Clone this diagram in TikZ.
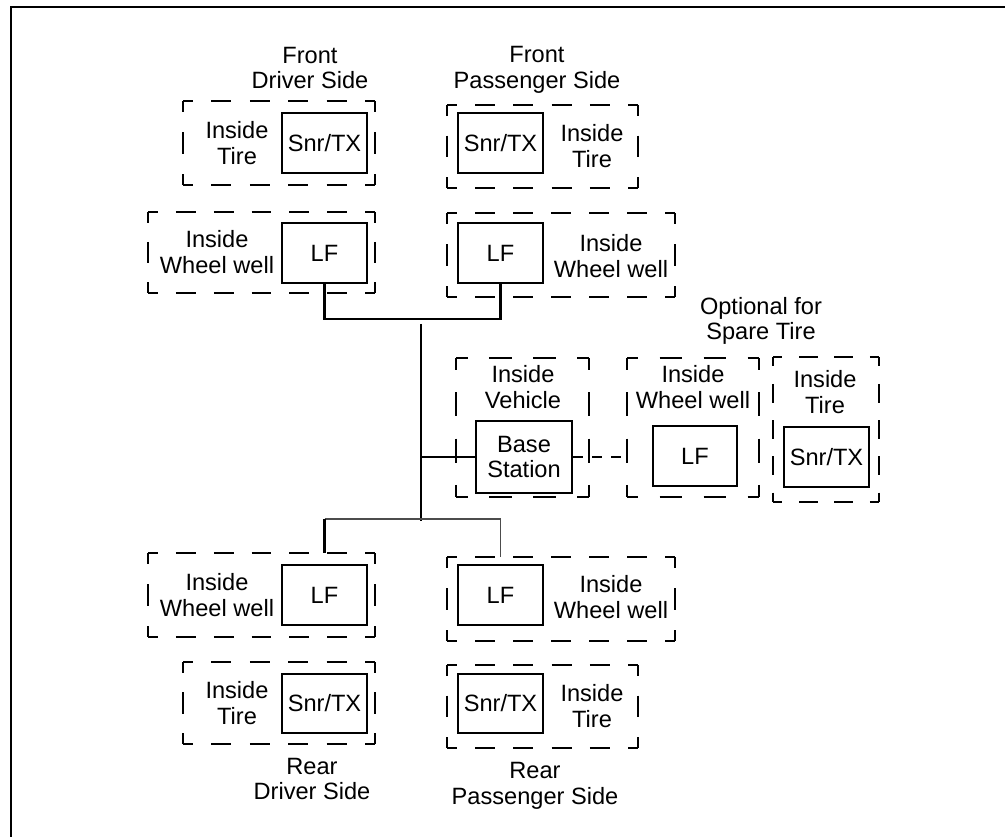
\documentclass[tikz,border=0pt]{standalone}
\usepackage{fontspec}
\setmainfont{Liberation Sans}
\newcommand\dbxframe[5]{%
  \node[dboxn, minimum width=#4pt, minimum height=#5pt] (#1) at (#2,#3) {};
  \pgfmathsetmacro\kw{max(1,round(#4/40))}%
  \pgfmathsetmacro\pw{#4/\kw}%
  \pgfmathsetmacro\dw{\pw*0.52}%
  \pgfmathsetmacro\gw{\pw-\dw}%
  \pgfmathsetmacro\hw{\dw/2}%
  \pgfmathsetmacro\kh{max(1,round(#5/40))}%
  \pgfmathsetmacro\ph{#5/\kh}%
  \pgfmathsetmacro\dh{\ph*0.52}%
  \pgfmathsetmacro\gh{\ph-\dh}%
  \pgfmathsetmacro\hh{\dh/2}%
  \draw[dline, dash pattern=on \dw pt off \gw pt, dash phase=\hw pt] (#1.north west) -- (#1.north east);
  \draw[dline, dash pattern=on \dw pt off \gw pt, dash phase=\hw pt] (#1.south west) -- (#1.south east);
  \draw[dline, dash pattern=on \dh pt off \gh pt, dash phase=\hh pt] (#1.north west) -- (#1.south west);
  \draw[dline, dash pattern=on \dh pt off \gh pt, dash phase=\hh pt] (#1.north east) -- (#1.south east);
}
\begin{document}
\begin{tikzpicture}[x=1pt,y=-1pt,
  sbox/.style={draw, line width=2.3pt, inner sep=0pt, minimum width=85pt, minimum height=60pt},
  dboxn/.style={inner sep=0pt, outer sep=0pt},
  dline/.style={line width=2.3pt, line cap=butt},
  lbl/.style={align=center, inner sep=0pt, font=\fontsize{23.6}{25.5}\selectfont},
  conn/.style={line width=2.3pt},
  thinconn/.style={line width=1.2pt, draw=black!70},
  dconn/.style={line width=2.3pt, dash pattern=on 10pt off 9pt}]
\useasboundingbox (0,0) rectangle (1005,837);
% frame
\coordinate (fa) at (11,837);
\coordinate (fb) at (11,7);
\coordinate (fc) at (1005,7);
\draw[line width=2.3pt] (fa) -- (fb) -- (fc);

% dashed enclosures
\dbxframe{fdTd}{279}{143}{192}{84}
\dbxframe{fdWd}{261.5}{252.5}{227}{81}
\dbxframe{fpTd}{542.5}{146.5}{191}{83}
\dbxframe{fpWd}{561}{255}{228}{84}
\dbxframe{ivd}{522.5}{427.5}{133}{139}
\dbxframe{swd}{693}{427.5}{132}{139}
\dbxframe{std}{826}{429.5}{106}{145}
\dbxframe{rdWd}{261.5}{595}{227}{84}
\dbxframe{rdTd}{279}{703}{192}{82}
\dbxframe{rpWd}{561}{599}{228}{84}
\dbxframe{rpTd}{542.5}{706.5}{191}{83}

% solid boxes
\node[sbox, lbl] (fdS) at (324.5,143) {Snr/TX};
\node[sbox, lbl] (fdL) at (324.5,253) {LF};
\node[sbox, lbl] (fpS) at (500.5,143) {Snr/TX};
\node[sbox, lbl] (fpL) at (500.5,253) {LF};
\node[sbox, lbl, minimum width=96pt, minimum height=72pt] (bs) at (524,457) {Base\\Station};
\node[sbox, lbl, minimum width=84pt] (spL) at (695,456) {LF};
\node[sbox, lbl] (spS) at (826.5,457) {Snr/TX};
\node[sbox, lbl] (rdL) at (324.5,595) {LF};
\node[sbox, lbl, minimum height=59pt] (rdS) at (324.5,703.5) {Snr/TX};
\node[sbox, lbl] (rpL) at (500.5,595) {LF};
\node[sbox, lbl, minimum height=59pt] (rpS) at (500.5,703.5) {Snr/TX};

% labels
\node[lbl] (tFD) at (310,68) {Front\\Driver Side};
\node[lbl] (tFP) at (537,70) {Front\\Passenger Side};
\node[lbl] (lfdT) at (237,143) {Inside\\Tire};
\node[lbl] (lfdW) at (217,252) {Inside\\Wheel well};
\node[lbl] (lfpT) at (592,146) {Inside\\Tire};
\node[lbl] (lfpW) at (611,256) {Inside\\Wheel well};
\node[lbl] (tOpt) at (761,321) {Optional for\\Spare Tire};
\node[lbl] (liv) at (523,387) {Inside\\Vehicle};
\node[lbl] (lsW) at (693,387) {Inside\\Wheel well};
\node[lbl] (lsT) at (825,392) {Inside\\Tire};
\node[lbl] (lrdW) at (217,595) {Inside\\Wheel well};
\node[lbl] (lrdT) at (237,703) {Inside\\Tire};
\node[lbl] (lrpW) at (611,597) {Inside\\Wheel well};
\node[lbl] (lrpT) at (592,706) {Inside\\Tire};
\node[lbl] (tRD) at (312,779) {Rear\\Driver Side};
\node[lbl] (tRP) at (535,786) {Rear\\Passenger Side};

% connectors
\coordinate (tj) at (421,319);
\coordinate (trTop) at (421,324);
\coordinate (trBot) at (421,521);
\coordinate (bj) at (421,519);
\draw[conn] (fdL.south) |- (tj) -| (fpL.south);
\draw[conn] (trTop) -- (trBot);
\draw[conn] (bs.west) -- (bs.west -| trTop);
\draw[dconn] (bs.east) -- (bs.east -| swd.west);
\draw[thinconn] (rdL.north |- bj) -- (rpL.north |- bj);
\draw[conn] (rdL.north |- bj) -- (rdL.north |- rdWd.north);
\draw[thinconn] (rpL.north |- bj) -- (rpL.north |- rpWd.north);
\end{tikzpicture}
\end{document}
